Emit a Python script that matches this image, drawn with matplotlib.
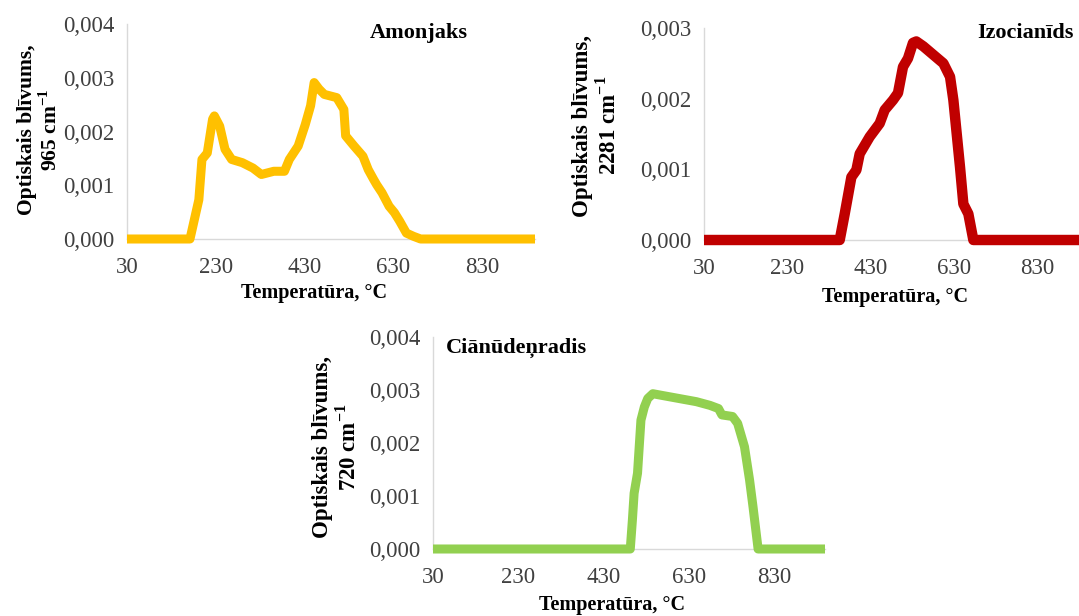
import matplotlib.pyplot as plt
import numpy as np

plt.rcParams['font.family'] = ['Liberation Serif', 'DejaVu Serif']
plt.rcParams['mathtext.fontset'] = 'custom'
plt.rcParams['mathtext.rm'] = 'Liberation Serif:bold'
plt.rcParams['mathtext.bf'] = 'Liberation Serif:bold'

# Amonjaks, 965 cm-1
amon_t = [30, 172, 192, 199, 211, 223, 227, 239, 251, 266, 290, 314, 333, 361, 385,
          396, 416, 432, 444, 452, 463, 475, 503, 519, 523, 542, 562, 574, 586, 593,
          605, 621, 633, 645, 660, 676, 692, 950]
amon_v = [0, 0, 0.00073, 0.00148, 0.0016, 0.00223, 0.00229, 0.0021, 0.00167, 0.00148,
          0.00142, 0.00132, 0.0012, 0.00126, 0.00126, 0.00148, 0.00173, 0.00213, 0.00248,
          0.00291, 0.00279, 0.00269, 0.00263, 0.00241, 0.00192, 0.00173, 0.00154, 0.00129,
          0.00111, 0.00101, 0.00086, 0.00061, 0.00049, 0.00033, 0.00011, 0.00005, 0, 0]

# Izocianids, 2281 cm-1
izo_t = [30, 356, 368, 384, 396, 404, 428, 452, 464, 484, 496, 508, 520, 532, 540,
         557, 581, 605, 621, 629, 645, 653, 665, 677, 950]
izo_v = [0, 0, 0.00037, 0.00089, 0.00099, 0.00122, 0.00146, 0.00165, 0.00184, 0.00198,
         0.00208, 0.00245, 0.00257, 0.00279, 0.00281, 0.00274, 0.00262, 0.0025, 0.00231,
         0.00198, 0.00103, 0.00051, 0.00037, 0, 0]

# Cianudenradis, 720 cm-1
cian_t = [30, 493, 498, 502, 510, 518, 526, 534, 546, 566, 607, 648, 680, 700, 708,
          733, 745, 761, 773, 781, 793, 950]
cian_v = [0, 0, 0.00055, 0.00105, 0.00143, 0.00243, 0.00268, 0.00284, 0.00293, 0.0029,
          0.00284, 0.00278, 0.00271, 0.00265, 0.00253, 0.0025, 0.00237, 0.00193, 0.0013,
          0.0008, 0, 0]

x_ticks = [30, 230, 430, 630, 830]

W, H = 1079, 616


def px_axes(fig, x0, x1, y_top, y_bot):
    return fig.add_axes([x0 / W, 1 - y_bot / H, (x1 - x0) / W, (y_bot - y_top) / H])


def style(ax, t, v, color, lw, ymax, title, tpos, ylab, ylsize, ylpos, xlpos):
    ax.plot(t, v, color=color, lw=lw, solid_joinstyle='round', solid_capstyle='butt',
            clip_on=False, zorder=3)
    ax.set_xlim(30, 950)
    ax.set_ylim(0, ymax)
    ax.set_xticks(x_ticks)
    yt = np.arange(0, ymax + 1e-9, 0.001)
    ax.set_yticks(yt)
    ax.set_yticklabels([f"{y:.3f}".replace('.', ',') for y in yt])
    for s in ['top', 'right']:
        ax.spines[s].set_visible(False)
    for s in ['left', 'bottom']:
        ax.spines[s].set_color('#d9d9d9')
        ax.spines[s].set_linewidth(1)
        ax.spines[s].set_zorder(1)
    ax.tick_params(axis='both', length=0, labelsize=16.5, colors='#404040')
    ax.tick_params(axis='x', pad=13)
    ax.tick_params(axis='y', pad=9)
    ax.text(tpos[0], tpos[1], title, transform=ax.transAxes, ha='center', va='center',
            fontsize=16, fontweight='bold')
    ax.set_ylabel(ylab, fontsize=ylsize, fontweight='bold', linespacing=1.15)
    ax.yaxis.set_label_coords(*ylpos)
    ax.yaxis.label.set_va('center')
    ax.set_xlabel("Temperatūra, °C", fontsize=14.5, fontweight='bold')
    ax.xaxis.set_label_coords(*xlpos)
    ax.xaxis.label.set_va('center')


fig = plt.figure(figsize=(W / 100, H / 100), dpi=100)

ax1 = px_axes(fig, 127, 535, 24, 239)
style(ax1, amon_t, amon_v, '#ffc000', 6.5, 0.004, "Amonjaks", (0.716, 0.958),
      "Optiskais blīvums,\n965 cm$^{-1}$", 15.5, (-0.215, 0.51), (0.458, -0.251))

ax2 = px_axes(fig, 704, 1087, 28, 240)
style(ax2, izo_t, izo_v, '#c00000', 7.5, 0.003, "Izocianīds", (0.839, 0.976),
      "Optiskais blīvums,\n2281 cm$^{-1}$", 16.5, (-0.281, 0.54), (0.499, -0.269))

ax3 = px_axes(fig, 433, 825, 337, 549)
style(ax3, cian_t, cian_v, '#92d050', 6.5, 0.004, "Ciānūdeņradis", (0.214, 0.948),
      "Optiskais blīvums,\n720 cm$^{-1}$", 16.5, (-0.246, 0.48), (0.457, -0.264))

fig.savefig("out.png", dpi=100)
